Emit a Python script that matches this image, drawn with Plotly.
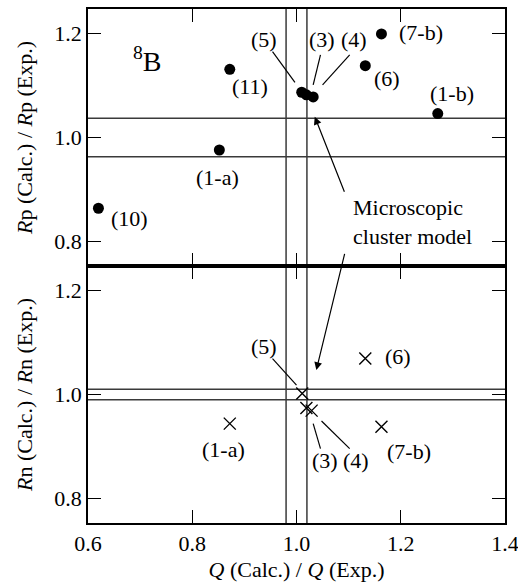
import plotly.graph_objects as go
from plotly.subplots import make_subplots

# ---- data ----
rp_labels = ["(10)", "(1-a)", "(11)", "(5)", "(3)", "(4)", "(6)", "(7-b)", "(1-b)"]
rp_q = [0.620, 0.852, 0.872, 1.010, 1.019, 1.032, 1.132, 1.163, 1.271]
rp_ratio = [0.864, 0.976, 1.131, 1.087, 1.082, 1.078, 1.138, 1.199, 1.046]

rn_labels = ["(1-a)", "(5)", "(3)", "(4)", "(6)", "(7-b)"]
rn_q = [0.872, 1.011, 1.019, 1.029, 1.132, 1.163]
rn_ratio = [0.944, 1.002, 0.974, 0.969, 1.069, 0.938]

# label positions (data coords)
rp_label_x = [0.680, 0.849, 0.910, 0.938, 1.048, 1.110, 1.173, 1.238, 1.298]
rp_label_y = [0.845, 0.924, 1.099, 1.188, 1.188, 1.188, 1.114, 1.201, 1.085]
rn_label_x = [0.860, 0.938, 1.054, 1.115, 1.194, 1.216]
rn_label_y = [0.895, 1.093, 0.874, 0.874, 1.074, 0.890]

# leader lines: (x0, y0, x1, y1)
rp_leaders = [(0.954, 1.165, 0.997, 1.106), (1.046, 1.159, 1.032, 1.101), (1.102, 1.159, 1.050, 1.101)]
rn_leaders = [(0.954, 1.069, 1.000, 1.018), (1.032, 0.944, 1.046, 0.896), (1.048, 0.949, 1.102, 0.896)]

q_band = [0.98, 1.02]
rp_band = [0.963, 1.037]
rn_band = [0.99, 1.01]

x_ticks = [0.6, 0.8, 1.0, 1.2, 1.4]
y_ticks = [0.8, 1.0, 1.2]
x_range = [0.6, 1.4]
y_range = [0.753, 1.247]

FONT = "Liberation Serif, Times New Roman, serif"
LINE = "#3a3a3a"

fig = make_subplots(rows=2, cols=1, shared_xaxes=True, vertical_spacing=0)

fig.add_trace(go.Scatter(x=rp_q, y=rp_ratio, mode="markers",
                         marker=dict(symbol="circle", size=11, color="black"),
                         showlegend=False), row=1, col=1)
fig.add_trace(go.Scatter(x=rn_q, y=rn_ratio, mode="markers",
                         marker=dict(symbol="x-thin-open", size=12, color="black",
                                     line=dict(width=1.4, color="black")),
                         showlegend=False), row=2, col=1)

# reference bands
for q in q_band:
    fig.add_shape(type="line", xref="x", yref="paper", x0=q, x1=q, y0=0, y1=1,
                  line=dict(color=LINE, width=1.5), layer="below")
for r in rp_band:
    fig.add_shape(type="line", xref="x", yref="y", x0=x_range[0], x1=x_range[1], y0=r, y1=r,
                  line=dict(color=LINE, width=1.5), layer="below")
for r in rn_band:
    fig.add_shape(type="line", xref="x2", yref="y2", x0=x_range[0], x1=x_range[1], y0=r, y1=r,
                  line=dict(color=LINE, width=1.5), layer="below")

for (x0, y0, x1, y1) in rp_leaders:
    fig.add_shape(type="line", xref="x", yref="y", x0=x0, y0=y0, x1=x1, y1=y1,
                  line=dict(color="black", width=1.2))
for (x0, y0, x1, y1) in rn_leaders:
    fig.add_shape(type="line", xref="x2", yref="y2", x0=x0, y0=y0, x1=x1, y1=y1,
                  line=dict(color="black", width=1.2))

ann_font = dict(family=FONT, size=22, color="black")
for t, x, y in zip(rp_labels, rp_label_x, rp_label_y):
    fig.add_annotation(x=x, y=y, xref="x", yref="y", text=t, showarrow=False, font=ann_font)
for t, x, y in zip(rn_labels, rn_label_x, rn_label_y):
    fig.add_annotation(x=x, y=y, xref="x2", yref="y2", text=t, showarrow=False, font=ann_font)

fig.add_annotation(x=0.714, y=1.150, xref="x", yref="y", text="<sup>8</sup>B", showarrow=False,
                   font=dict(family=FONT, size=28, color="black"))
fig.add_annotation(x=1.222, y=0.837, xref="x", yref="y", text="Microscopic<br>cluster model",
                   showarrow=False, font=ann_font, align="left")

# arrows
fig.add_annotation(x=1.035, y=1.040, xref="x", yref="y", ax=1.093, ay=0.893, axref="x", ayref="y",
                   text="", showarrow=True, arrowhead=2, arrowsize=1.3, arrowwidth=1.2, arrowcolor="black")
fig.add_annotation(x=1.038, y=1.047, xref="x2", yref="y2", ax=1.093, ay=1.273, axref="x2", ayref="y2",
                   text="", showarrow=True, arrowhead=2, arrowsize=1.3, arrowwidth=1.2, arrowcolor="black")

axis_common = dict(showline=True, linecolor="black", linewidth=1.5, mirror="ticks",
                   ticks="inside", ticklen=13, tickwidth=1.3, tickcolor="black",
                   showgrid=False, zeroline=False, ticklabeloverflow="allow", automargin=False,
                   tickfont=dict(family=FONT, size=22, color="black"))

fig.update_xaxes(range=x_range, tickvals=x_ticks, ticktext=[f"{v:.1f}" for v in x_ticks], **axis_common)
fig.update_xaxes(title=dict(text="<i>Q</i> (Calc.) / <i>Q</i> (Exp.)",
                            font=dict(family=FONT, size=22, color="black"), standoff=6), row=2, col=1)
fig.update_yaxes(range=y_range, tickvals=y_ticks, ticktext=[f"{v:.1f}" for v in y_ticks], **axis_common)
fig.update_yaxes(title=dict(text="<i>R</i>p (Calc.) / <i>R</i>p (Exp.)",
                            font=dict(family=FONT, size=22, color="black"), standoff=16), row=1, col=1)
fig.update_yaxes(title=dict(text="<i>R</i>n (Calc.) / <i>R</i>n (Exp.)",
                            font=dict(family=FONT, size=22, color="black"), standoff=16), row=2, col=1)

fig.update_layout(width=518, height=587, margin=dict(l=88, r=13, t=9, b=64),
                  plot_bgcolor="white", paper_bgcolor="white",
                  font=dict(family=FONT, color="black"))

fig.write_html("out.html", config={"displayModeBar": False},
               post_script="document.body.style.margin='0';document.body.style.overflow='hidden';")
